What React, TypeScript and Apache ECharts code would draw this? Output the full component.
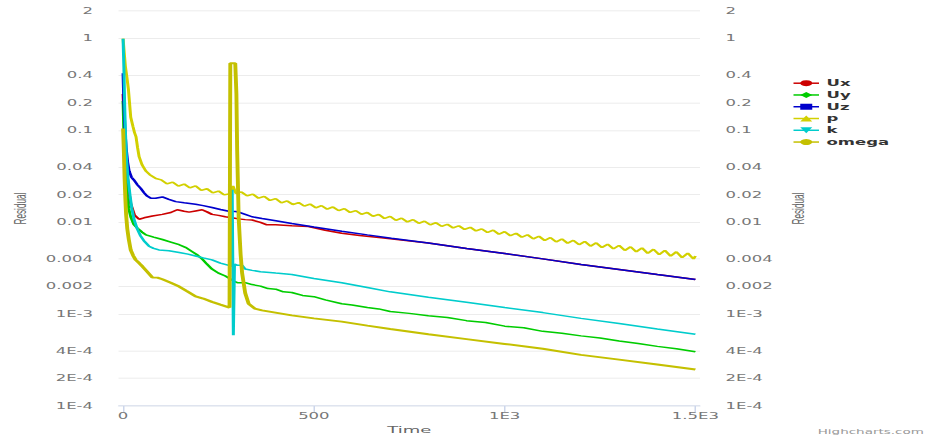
import React, { useEffect, useRef } from "react";
import * as echarts from "echarts";

// ---- tick labels ----
const yTicks = [2, 1, 0.4, 0.2, 0.1, 0.04, 0.02, 0.01, 0.004, 0.002, 0.001, 0.0004, 0.0002, 0.0001];
const yTickLabels = ["2", "1", "0.4", "0.2", "0.1", "0.04", "0.02", "0.01", "0.004", "0.002", "1E-3", "4E-4", "2E-4", "1E-4"];
const xTicks = [0, 500, 1000, 1500];
const xTickLabels = ["0", "500", "1E3", "1.5E3"];

// ---- series (time, residual) ----
const uxT = [0, 3, 6, 10, 15, 20, 30, 42, 55, 77, 103, 125, 142, 160, 173, 190, 207, 220, 233, 250, 268, 285, 303, 320, 338, 360, 377, 400, 442, 486, 530, 573, 620, 677, 800, 900, 1000, 1100, 1200, 1300, 1400, 1500];
const uxV = [0.25, 0.12, 0.06, 0.035, 0.022, 0.016, 0.012, 0.0108, 0.0112, 0.0117, 0.0122, 0.0128, 0.0137, 0.0132, 0.0129, 0.0133, 0.0137, 0.013, 0.0122, 0.0119, 0.0115, 0.0112, 0.0109, 0.0107, 0.0106, 0.01, 0.0094, 0.0094, 0.0092, 0.009, 0.0082, 0.0076, 0.0072, 0.0068, 0.00595, 0.0052, 0.00457, 0.004, 0.00348, 0.00307, 0.0027, 0.00238];

const uyT = [0, 2, 4, 7, 10, 15, 20, 28, 38, 50, 60, 80, 103, 125, 147, 165, 181, 195, 207, 220, 233, 250, 268, 290, 300, 320, 338, 360, 380, 400, 420, 442, 470, 500, 530, 573, 600, 640, 670, 700, 750, 800, 850, 900, 950, 1000, 1050, 1100, 1150, 1200, 1250, 1300, 1350, 1400, 1450, 1500];
const uyV = [0.21, 0.1, 0.05, 0.03, 0.02, 0.014, 0.0115, 0.0095, 0.0086, 0.0078, 0.0073, 0.0069, 0.0065, 0.0061, 0.0057, 0.0053, 0.0048, 0.0044, 0.004, 0.0035, 0.0031, 0.0028, 0.0026, 0.0023, 0.0022, 0.0022, 0.0021, 0.00202, 0.0019, 0.00187, 0.00175, 0.00172, 0.0016, 0.00155, 0.00143, 0.0013, 0.00126, 0.00118, 0.00114, 0.00107, 0.00102, 0.00096, 0.00092, 0.00085, 0.00081, 0.00074, 0.00071, 0.00065, 0.00062, 0.00058, 0.00055, 0.00051, 0.00048, 0.000446, 0.00042, 0.00039];

const uzT = [0, 2, 5, 8, 12, 16, 22, 28, 38, 46, 55, 62, 73, 85, 103, 120, 138, 160, 190, 210, 233, 255, 277, 295, 303, 320, 338, 364, 400, 442, 500, 573, 640, 703, 800, 900, 1000, 1100, 1200, 1300, 1400, 1500];
const uzV = [0.42, 0.2, 0.1, 0.065, 0.045, 0.036, 0.031, 0.029, 0.0255, 0.0235, 0.021, 0.0195, 0.0183, 0.0183, 0.0189, 0.0178, 0.0168, 0.0163, 0.0157, 0.0152, 0.0145, 0.0138, 0.0132, 0.0131, 0.0129, 0.0122, 0.0115, 0.011, 0.0104, 0.0097, 0.0089, 0.008, 0.0073, 0.0067, 0.00595, 0.0052, 0.00457, 0.004, 0.00348, 0.00307, 0.0027, 0.00238];

const pT = [0, 3, 6, 10, 14, 20, 26, 30, 34, 38, 42, 50, 60, 70, 86,
  100, 115, 130, 145, 160, 175, 190, 205, 220, 235, 250, 265, 280, 288, 296,
  310, 325, 340, 355, 370, 385, 400, 415, 430, 445, 460, 475, 490, 505, 520, 535, 550, 565, 580, 595,
  610, 625, 640, 655, 670, 685, 700, 715, 730, 745, 760, 775, 790, 805, 820, 835, 850, 865, 880, 895,
  910, 925, 940, 955, 970, 985, 1000, 1015, 1030, 1045, 1060, 1075, 1090, 1105, 1120, 1135, 1150, 1165, 1180, 1195,
  1210, 1225, 1240, 1255, 1270, 1285, 1300, 1315, 1330, 1345, 1360, 1375, 1390, 1405, 1420, 1435, 1450, 1465, 1480, 1495, 1500];
const pV = [1.0, 0.7, 0.5, 0.38, 0.28, 0.14, 0.11, 0.095, 0.085, 0.065, 0.052, 0.042, 0.036, 0.033, 0.03,
  0.029, 0.0262, 0.0274, 0.0248, 0.0261, 0.0237, 0.0249, 0.0223, 0.0232, 0.0209, 0.0219, 0.0199, 0.0205, 0.025, 0.0205,
  0.0214, 0.0194, 0.0203, 0.0183, 0.0192, 0.0173, 0.0181, 0.0163, 0.0171, 0.0156, 0.0164, 0.015, 0.0158, 0.0144, 0.0152, 0.0139, 0.0147, 0.0134, 0.0141, 0.0128,
  0.0134, 0.0122, 0.0128, 0.0116, 0.0122, 0.011, 0.0116, 0.0105, 0.0111, 0.0101, 0.0107, 0.00975, 0.0103, 0.00938, 0.00991, 0.00904, 0.00953, 0.00869, 0.00918, 0.00836,
  0.00883, 0.00805, 0.00849, 0.00774, 0.00822, 0.00741, 0.00791, 0.00714, 0.0076, 0.00687, 0.00733, 0.00661, 0.00705, 0.00634, 0.00682, 0.00612, 0.00659, 0.00592, 0.00637, 0.00571,
  0.00619, 0.0055, 0.00598, 0.00531, 0.00578, 0.00514, 0.00561, 0.00494, 0.00542, 0.00478, 0.00527, 0.00459, 0.00509, 0.00444, 0.00494, 0.00428, 0.00478, 0.00413, 0.00461, 0.00399, 0.0043];

const kT = [0, 2, 4, 6, 9, 13, 18, 23, 29, 37, 46, 56, 68, 80, 94, 120, 147, 170, 190, 210, 233, 255, 277, 284, 286, 289, 292, 300, 312, 320, 338, 360, 400, 442, 500, 573, 640, 700, 800, 900, 1000, 1100, 1200, 1300, 1400, 1500];
const kV = [1.0, 0.5, 0.2, 0.1, 0.05, 0.03, 0.02, 0.014, 0.0107, 0.0085, 0.0071, 0.0062, 0.0055, 0.0052, 0.005, 0.0049, 0.0047, 0.0045, 0.0043, 0.0041, 0.0039, 0.0036, 0.0034, 0.0033, 0.0226, 0.00059, 0.0035, 0.0034, 0.0034, 0.0031, 0.003, 0.0029, 0.0028, 0.0027, 0.00245, 0.0022, 0.00195, 0.00175, 0.00153, 0.00135, 0.00118, 0.00104, 0.0009, 0.00079, 0.00069, 0.000605];

const omegaT = [0, 2, 4, 6, 8, 11, 15, 20, 27, 33, 42, 51, 60, 70, 77, 90, 103, 125, 147, 165, 190, 210, 233, 255, 279, 281, 294, 297, 299, 303, 308, 312, 320, 329, 345, 364, 442, 500, 573, 640, 700, 800, 900, 1000, 1100, 1200, 1300, 1400, 1500];
const omegaV = [0.105, 0.06, 0.03, 0.018, 0.012, 0.0085, 0.0065, 0.005, 0.0043, 0.0039, 0.0036, 0.0033, 0.003, 0.0027, 0.0025, 0.0025, 0.0024, 0.0022, 0.002, 0.0018, 0.00156, 0.00148, 0.00136, 0.00127, 0.00118, 0.54, 0.54, 0.25, 0.06, 0.011, 0.0045, 0.0028, 0.0017, 0.0013, 0.00115, 0.0011, 0.00097, 0.0009, 0.00083, 0.00075, 0.00069, 0.000604, 0.000535, 0.000474, 0.00042, 0.00036, 0.00032, 0.000283, 0.00025];

const seriesNames = ["Ux", "Uy", "Uz", "p", "k", "omega"];
const seriesColors = ["#cc0000", "#00cc00", "#0000cc", "#d2d000", "#00cccc", "#c4c000"];

const SX = 1.5;
const SY = 0.7496;
const W = 620;
const H = 591;

function pairs(t: number[], v: number[]) {
  return t.map((x, i) => [x, Math.log10(v[i])]);
}

export default function App() {
  const ref = useRef<HTMLDivElement>(null);
  useEffect(() => {
    if (!ref.current) return;
    const chart = echarts.init(ref.current, undefined, { renderer: "svg" });
    const yLog = yTicks.map((v) => Math.log10(v));
    const yFmt = (val: number) => {
      for (let i = 0; i < yLog.length; i++) if (Math.abs(yLog[i] - val) < 1e-6) return yTickLabels[i];
      return "";
    };
    const xFmt = (val: number) => {
      const i = xTicks.indexOf(val);
      return i >= 0 ? xTickLabels[i] : "";
    };
    const font = "DejaVu Sans";
    const yAxisBase = {
      type: "value",
      min: Math.log10(yTicks[yTicks.length - 1]),
      max: Math.log10(yTicks[0]),
      name: "Residual",
      nameLocation: "middle",
      nameGap: 60,
      nameTextStyle: { fontFamily: "Liberation Sans", fontSize: 11, color: "#666" },
      axisLine: { show: false },
      axisTick: { show: false, customValues: yLog },
      axisLabel: { customValues: yLog, formatter: yFmt, margin: 17, color: "#777", fontSize: 11, fontFamily: font },
    };
    const series = [
      [uxT, uxV],
      [uyT, uyV],
      [uzT, uzV],
      [pT, pV],
      [kT, kV],
      [omegaT, omegaV],
    ].map(([t, v], i) => ({
      name: seriesNames[i],
      type: "line",
      data: pairs(t as number[], v as number[]),
      showSymbol: false,
      symbol: ["circle", "diamond", "rect", "triangle", "triangle", "circle"][i],
      symbolRotate: i === 4 ? 180 : 0,
      symbolSize: 8,
      lineStyle: { width: i === 5 ? 2.6 : 2, color: seriesColors[i] },
      itemStyle: { color: seriesColors[i] },
      silent: true,
      emphasis: { disabled: true },
    }));
    chart.setOption({
      animation: false,
      grid: { left: 77.33, right: W - 466.67, top: 14.67, bottom: H - 406 / SY, containLabel: false },
      xAxis: {
        type: "value",
        min: -12,
        max: 1512,
        name: "Time",
        nameLocation: "middle",
        nameGap: 26,
        nameTextStyle: { fontFamily: font, fontSize: 12, color: "#666" },
        axisLine: { show: true, onZero: false, lineStyle: { color: "#ccd6eb", width: 1 } },
        axisTick: { show: true, customValues: xTicks, length: 8, lineStyle: { color: "#ccd6eb" } },
        axisLabel: { customValues: xTicks, formatter: xFmt, margin: 8, color: "#777", fontSize: 11, fontFamily: font },
        splitLine: { show: false },
      },
      yAxis: [
        { ...yAxisBase, position: "left", splitLine: { show: true, lineStyle: { color: "#e6e6e6", width: 1 } } },
        { ...yAxisBase, position: "right", splitLine: { show: false } },
      ],
      legend: {
        orient: "vertical",
        left: 523,
        top: 100.5,
        itemWidth: 17,
        itemHeight: 10,
        itemGap: 4.7,
        textStyle: { fontFamily: font, fontSize: 11, fontWeight: "bold", color: "#333" },
        data: seriesNames,
        selectedMode: false,
      },
      graphic: [
        {
          type: "text",
          right: 4,
          top: 572,
          style: { text: "Highcharts.com", fontFamily: font, fontSize: 9, fill: "#999" },
        },
      ],
      series,
    });
    return () => chart.dispose();
  }, []);
  return (
    <div style={{ position: "absolute", left: 0, top: 0, width: 930, height: 443, overflow: "hidden", background: "#fff" }}>
      <div
        ref={ref}
        style={{ width: W, height: H, transform: `scale(${SX}, ${SY})`, transformOrigin: "0 0" }}
      />
    </div>
  );
}
